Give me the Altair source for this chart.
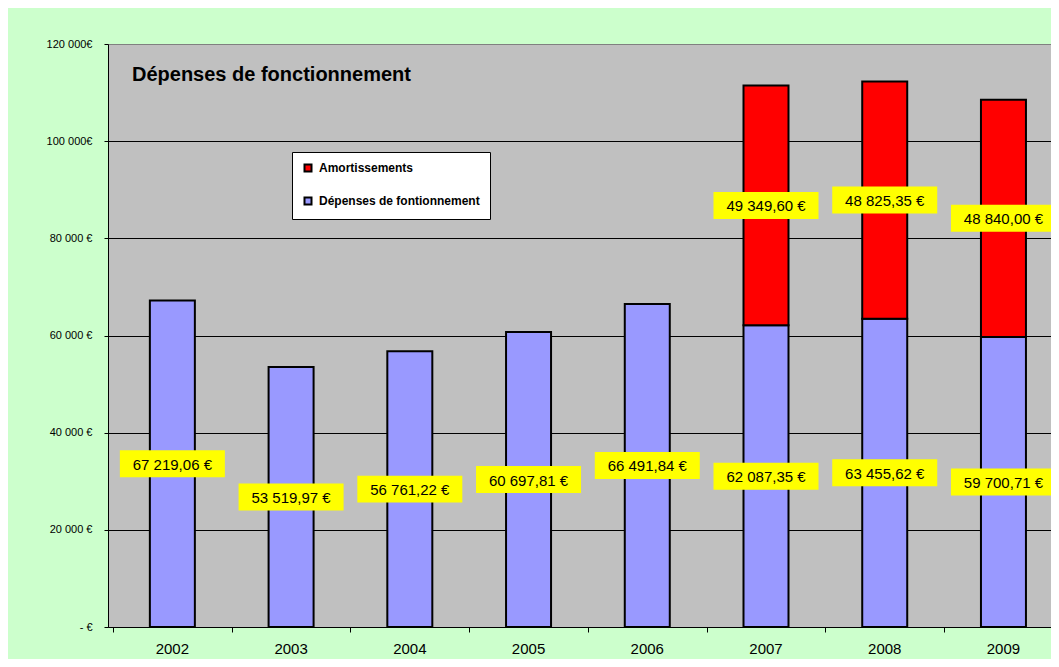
import altair as alt
import pandas as pd

# ---- data ----
years = ["2002", "2003", "2004", "2005", "2006", "2007", "2008", "2009"]
depenses = [67219.06, 53519.97, 56761.22, 60697.81, 66491.84, 62087.35, 63455.62, 59700.71]
amortissements = [None, None, None, None, None, 49349.60, 48825.35, 48840.00]
series_names = ["Amortissements", "Dépenses de fontionnement"]
series_colors = ["#FF0000", "#9999FF"]
y_tick_values = [0, 20000, 40000, 60000, 80000, 100000, 120000]
y_tick_labels = ["- €", "20 000 €", "40 000 €", "60 000 €", "80 000 €", "100 000€", "120 000€"]
title_text = "Dépenses de fonctionnement"


def fr(v):
    s = f"{v:,.2f}"
    return s.replace(",", "X").replace(".", ",").replace("X", " ") + " €"


rows = []
for i, y in enumerate(years):
    d = depenses[i]
    rows.append(dict(idx=i, year=y, series=series_names[1], y0=0.0, y1=d, mid=d / 2, label=fr(d)))
    a = amortissements[i]
    if a is not None:
        rows.append(dict(idx=i, year=y, series=series_names[0], y0=d, y1=d + a, mid=d + a / 2, label=fr(a)))
df = pd.DataFrame(rows)
df_years = pd.DataFrame({"idx": list(range(len(years))), "year": years})

W, H = 943, 583
band = 120.0
x_scale = alt.Scale(domain=[-0.5, -0.5 + W / band], nice=False, zero=False)
y_scale = alt.Scale(domain=[0, 120000], nice=False)

ylab_js = "[" + ",".join(f"'{t}'" for t in y_tick_labels) + "]"

x_axis = alt.Axis(
    values=[k - 0.5 for k in range(len(years))],
    labels=False,
    tickSize=5,
    tickColor="black",
    domainColor="black",
    grid=False,
    title=None,
)

y_axis = alt.Axis(
    values=y_tick_values,
    labelExpr=f"{ylab_js}[round(datum.value / 20000)]",
    grid=True,
    gridColor={"condition": {"test": "datum.value == 120000", "value": "#808080"}, "value": "black"},
    gridWidth=1,
    tickSize=4,
    tickColor="black",
    domainColor="black",
    labelFont="Liberation Sans",
    labelFontSize=11,
    labelColor="black",
    labelPadding=12,
    title=None,
)

base = alt.Chart(df)

bars = base.mark_bar(width=45, stroke="black", strokeWidth=2, opacity=1).encode(
    x=alt.X("idx:Q", scale=x_scale, axis=x_axis),
    y=alt.Y("y0:Q", scale=y_scale, axis=y_axis),
    y2="y1:Q",
    color=alt.Color(
        "series:N",
        scale=alt.Scale(domain=series_names, range=series_colors),
        legend=alt.Legend(
            orient="none",
            legendX=184,
            legendY=108,
            title=None,
            fillColor="white",
            strokeColor="black",
            padding=10,
            symbolType="square",
            symbolSize=49,
            symbolStrokeColor="black",
            symbolStrokeWidth=2,
            symbolOpacity=1,
            labelFont="Liberation Sans",
            labelFontSize=12,
            labelFontWeight="bold",
            labelColor="black",
            labelLimit=400,
            rowPadding=17,
            labelOffset=5,
        ),
    ),
)

boxes = base.mark_point(
    shape="M-1,-0.257L1,-0.257L1,0.257L-1,0.257Z",
    size=11025,
    filled=True,
    fill="#FFFF00",
    opacity=1,
    strokeWidth=0,
).encode(
    x=alt.X("idx:Q", scale=x_scale),
    y=alt.Y("mid:Q", scale=y_scale),
)

texts = base.mark_text(
    font="Liberation Sans", fontSize=15, color="black", align="center", baseline="middle", dy=1
).encode(
    x=alt.X("idx:Q", scale=x_scale),
    y=alt.Y("mid:Q", scale=y_scale),
    text="label:N",
)

year_labels = alt.Chart(df_years).mark_text(
    font="Liberation Sans", fontSize=15, color="black", align="center", baseline="alphabetic"
).encode(
    x=alt.X("idx:Q", scale=x_scale),
    y=alt.value(H + 27),
    text="year:N",
)

chart = (
    alt.layer(bars, boxes, texts, year_labels)
    .properties(
        width=W,
        height=H,
        autosize=alt.AutoSizeParams(type="none"),
        padding={"left": 100, "top": 36, "right": 0, "bottom": 32},
        background="#CCFFCC",
        title=alt.TitleParams(
            text=title_text,
            anchor="start",
            frame="group",
            font="Liberation Sans",
            fontSize=20,
            fontWeight="bold",
            color="black",
            baseline="alphabetic",
            offset=0,
            dx=24,
            dy=63,
        ),
    )
    .configure_view(fill="#C0C0C0", strokeWidth=0)
)

chart.save("out.html", embed_options={"renderer": "svg", "actions": False})
